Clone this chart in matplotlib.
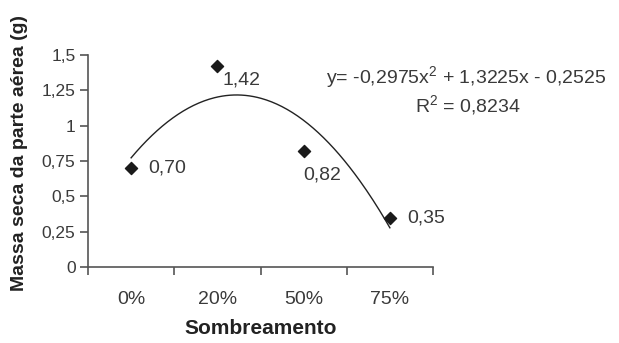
import numpy as np
import matplotlib.pyplot as plt

plt.rcParams['font.family'] = ['Liberation Sans', 'DejaVu Sans']
plt.rcParams['mathtext.fontset'] = 'custom'
plt.rcParams['mathtext.rm'] = 'Liberation Sans'

categorias = ['0%', '20%', '50%', '75%']
massa = [0.70, 1.42, 0.82, 0.35]
rotulos = ['0,70', '1,42', '0,82', '0,35']
coef = [-0.2975, 1.3225, -0.2525]
yticks = [0, 0.25, 0.5, 0.75, 1, 1.25, 1.5]
ytick_labels = ['0', '0,25', '0,5', '0,75', '1', '1,25', '1,5']

cinza = '#3a3a3a'
W, H = 619, 343

fig = plt.figure(figsize=(6.19, 3.43), dpi=100)
ax = fig.add_axes([88 / W, 1 - 267 / H, (433 - 88) / W, (267 - 55) / H])

x = np.arange(1, len(categorias) + 1)
ax.scatter(x, massa, marker='D', s=38, color='#1a1a1a', zorder=3, clip_on=False)

xs = np.linspace(1, 4, 200)
ax.plot(xs, np.polyval(coef, xs), color='#222222', lw=1.0)

# deslocamento dos rotulos em pixels
offsets = [(17, 0), (5, -14), (0, -24), (17, 0)]
for xi, yi, lab, (dx, dy) in zip(x, massa, rotulos, offsets):
    ax.annotate(lab, (xi, yi), xytext=(dx, dy), textcoords='offset pixels',
                ha='left', va='center', fontsize=14, color=cinza)

fig.text(466 / W, 1 - 78 / H, 'y= -0,2975x$^2$ + 1,3225x - 0,2525', ha='center', va='center',
         fontsize=14, color=cinza)
fig.text(468 / W, 1 - 106 / H, 'R$^2$ = 0,8234', ha='center', va='center', fontsize=14, color=cinza)

ax.set_xlim(0.5, 4.5)
ax.set_ylim(0, 1.5)
ax.set_xticks(np.arange(0.5, 4.6, 1))
ax.set_xticklabels([])
ax.set_xticks(x, minor=True)
ax.set_xticklabels(categorias, minor=True, fontsize=14, color=cinza)
ax.tick_params(axis='x', which='minor', length=0, pad=17)
ax.tick_params(axis='x', which='major', direction='out', length=6, color='#555555', width=1.2)
ax.set_yticks(yticks)
ax.set_yticklabels(ytick_labels, fontsize=12.5, color=cinza)
ax.tick_params(axis='y', direction='out', length=6, color='#555555', width=1.2, pad=3)

for s in ['top', 'right']:
    ax.spines[s].set_visible(False)
for s in ['left', 'bottom']:
    ax.spines[s].set_color('#555555')
    ax.spines[s].set_linewidth(1.2)

fig.text(20 / W, 1 - 153 / H, 'Massa seca da parte aérea (g)', rotation=90, ha='center', va='center',
         fontsize=14, fontweight='bold', color='#222222')
fig.text(261 / W, 1 - 329 / H, 'Sombreamento', ha='center', va='center',
         fontsize=15, fontweight='bold', color='#222222')

fig.savefig('out.png', dpi=100)
